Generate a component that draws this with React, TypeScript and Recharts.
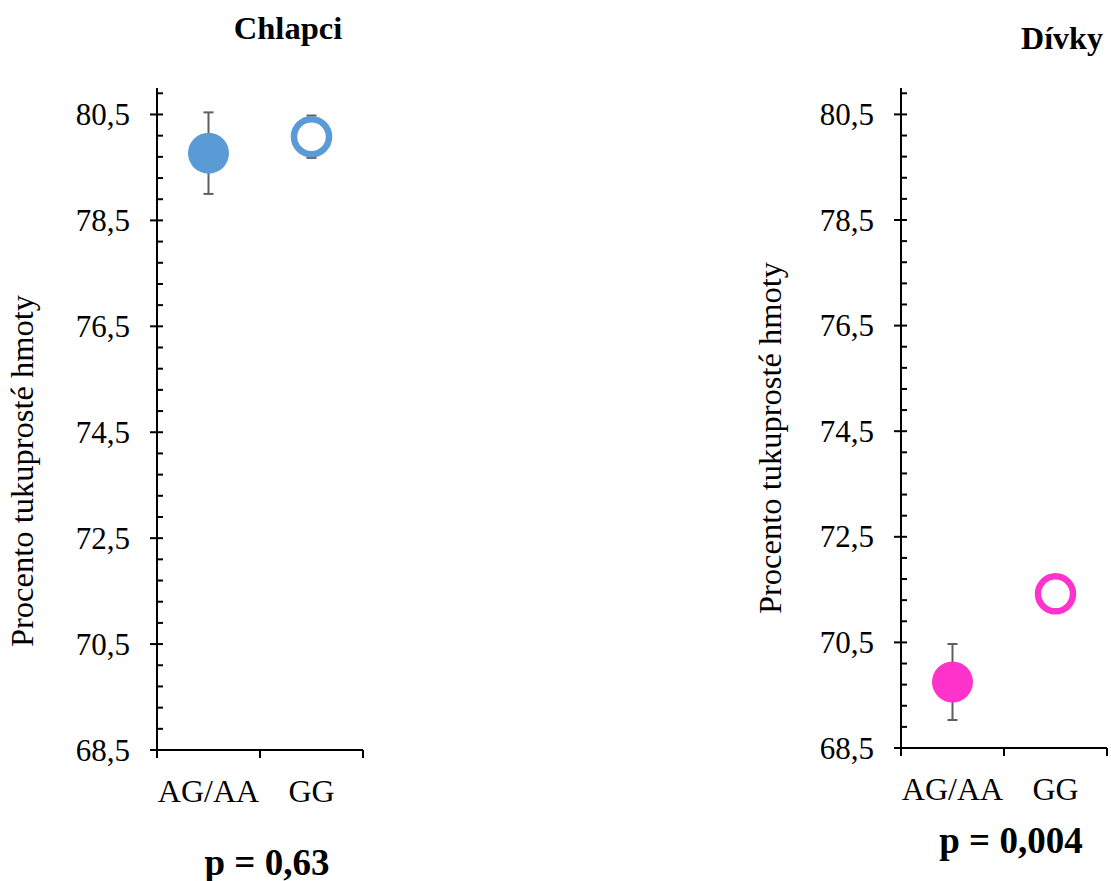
import React from "react";
import { ScatterChart, Scatter, XAxis, YAxis, ErrorBar } from "recharts";

const categories = ["AG/AA", "GG"];
const boysMean = [79.77, 80.08];
const boysErr = [0.77, 0.4];
const girlsMean = [69.75, 71.42];
const girlsErr = [0.72, 0];
const majorTicks = [68.5, 70.5, 72.5, 74.5, 76.5, 78.5, 80.5];
const majorLabels = ["68,5", "70,5", "72,5", "74,5", "76,5", "78,5", "80,5"];
// minor ticks every 0.4 between the labelled ones
const yTicks = Array.from({ length: 32 }, (_, i) => +(68.5 + i * 0.4).toFixed(1));
const xTicks = [0, 0.5, 1, 1.5, 2];

const SERIF = '"Liberation Serif", "Times New Roman", serif';
const BLUE = "#5b9bd5";
const PINK = "#ff33cc";
const ERR = "#5f5f5f";

function buildRows(mean: number[], err: number[]) {
  return categories.map((c, i) => ({ i, cat: c, x: i + 0.5, y: mean[i], err: err[i] }));
}

function YTick(props: any) {
  const { x, y, payload } = props;
  const idx = majorTicks.findIndex((m) => Math.abs(m - payload.value) < 1e-6);
  const major = idx >= 0;
  return (
    <g>
      <line x1={major ? x - 7 : x} x2={x + 6} y1={y} y2={y} stroke="#000" strokeWidth={2} />
      {major && (
        <text x={x - 27} y={y} dy="0.34em" textAnchor="end" fontSize={31} fontFamily={SERIF} fill="#000">
          {majorLabels[idx]}
        </text>
      )}
    </g>
  );
}

function XTick(props: any) {
  const { x, y, payload } = props;
  const v = payload.value;
  if (Number.isInteger(v)) {
    return <line x1={x} x2={x} y1={y} y2={y + 8} stroke="#000" strokeWidth={2} />;
  }
  return (
    <text x={x} y={y + 52} textAnchor="middle" fontSize={32} fontFamily={SERIF} fill="#000">
      {categories[Math.floor(v)]}
    </text>
  );
}

function Panel({ rows, color, left, width, axisX, axisBottom }: any) {
  const plotW = 206;
  const shape = (p: any) => {
    const hollow = p.payload && p.payload.i === 1;
    return hollow ? (
      <circle cx={p.cx} cy={p.cy} r={17.5} fill="#fff" stroke={color} strokeWidth={6.5} />
    ) : (
      <circle cx={p.cx} cy={p.cy} r={20.5} fill={color} />
    );
  };
  return (
    <div style={{ position: "absolute", left, top: 0 }}>
      <ScatterChart
        width={width}
        height={881}
        margin={{ top: 88, right: width - axisX - plotW, bottom: 0, left: 0 }}
      >
        <XAxis
          type="number"
          dataKey="x"
          domain={[0, 2]}
          ticks={xTicks}
          interval={0}
          tick={<XTick />}
          tickSize={0}
          tickMargin={0}
          tickLine={false}
          axisLine={{ stroke: "#000", strokeWidth: 2 }}
          height={881 - axisBottom}
        />
        <YAxis
          type="number"
          dataKey="y"
          domain={[68.5, 81]}
          ticks={yTicks}
          interval={0}
          tick={<YTick />}
          tickSize={0}
          tickMargin={0}
          tickLine={false}
          axisLine={{ stroke: "#000", strokeWidth: 2 }}
          width={axisX}
        />
        <Scatter data={rows} shape={shape} isAnimationActive={false}>
          <ErrorBar dataKey="err" direction="y" width={5} stroke={ERR} strokeWidth={2} />
        </Scatter>
      </ScatterChart>
    </div>
  );
}

function Text({ x, y, size, bold, rotate, children }: any) {
  return (
    <div
      style={{
        position: "absolute",
        left: x,
        top: y,
        transform: `translate(-50%, -50%)${rotate ? " rotate(-90deg)" : ""}`,
        whiteSpace: "nowrap",
        fontFamily: SERIF,
        fontSize: size,
        fontWeight: bold ? "bold" : "normal",
        color: "#000",
        lineHeight: 1,
      }}
    >
      {children}
    </div>
  );
}

export default function App() {
  return (
    <div style={{ position: "absolute", left: 0, top: 0, width: 1111, height: 881, background: "#fff" }}>
      <Panel rows={buildRows(boysMean, boysErr)} color={BLUE} left={0} width={400} axisX={157} axisBottom={750} />
      <Panel rows={buildRows(girlsMean, girlsErr)} color={PINK} left={560} width={551} axisX={341} axisBottom={748} />
      <Text x={288} y={28} size={32.5} bold>Chlapci</Text>
      <Text x={1062} y={38} size={32} bold>Dívky</Text>
      <Text x={267} y={862} size={37} bold>p = 0,63</Text>
      <Text x={1011} y={840} size={37} bold>p = 0,004</Text>
      <Text x={22} y={471} size={32.5} rotate>Procento tukuprosté hmoty</Text>
      <Text x={770} y={438} size={32.5} rotate>Procento tukuprosté hmoty</Text>
    </div>
  );
}
